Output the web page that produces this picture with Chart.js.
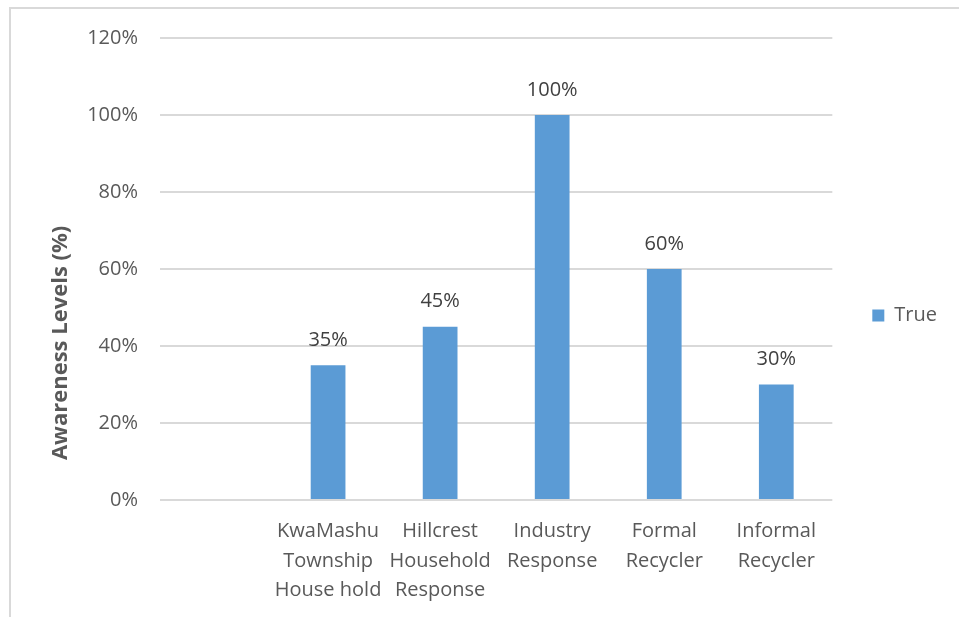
<!DOCTYPE html>
<html>
<head>
<meta charset="utf-8">
<script src="https://cdn.jsdelivr.net/npm/chart.js@4"></script>
<style>
  body { margin: 0; background: #fff; }
  #wrap { position: relative; width: 959px; height: 617px; }
  #frame { position: absolute; left: 9px; top: 7px; right: 0; bottom: 0; border-left: 2px solid #d9d9d9; border-top: 2px solid #d9d9d9; pointer-events: none; }
</style>
</head>
<body>
<div id="wrap">
  <canvas id="myChart" width="959" height="617"></canvas>
  <div id="frame"></div>
</div>
<script>
// categories (first slot is empty in the original)
var categories = [
    '',
    ['KwaMashu', 'Township', 'House hold'],
    ['Hillcrest', 'Household', 'Response'],
    ['Industry', 'Response'],
    ['Formal', 'Recycler'],
    ['Informal', 'Recycler']
];
var trueValues = [null, 35, 45, 100, 60, 30];
var yTicks = [0, 20, 40, 60, 80, 100, 120];

var fontName = "'Open Sans', sans-serif";

// value labels above bars
var barLabels = {
    id: 'barLabels',
    afterDatasetsDraw: function (chart) {
        var ctx = chart.ctx;
        ctx.save();
        ctx.font = '20px ' + fontName;
        ctx.fillStyle = '#404040';
        ctx.textAlign = 'center';
        ctx.textBaseline = 'middle';
        chart.getDatasetMeta(0).data.forEach(function (bar, i) {
            var v = trueValues[i];
            if (v == null) return;
            ctx.fillText(v + '%', bar.x, bar.y - 25);
        });
        ctx.restore();
    }
};

// y axis title, sits lower than the plot middle in the original
var yTitle = {
    id: 'yTitle',
    afterDraw: function (chart) {
        var ctx = chart.ctx;
        var area = chart.chartArea;
        ctx.save();
        ctx.translate(61, area.top + (area.bottom - area.top) * 0.66);
        ctx.rotate(-Math.PI / 2);
        ctx.font = 'bold 22px ' + fontName;
        ctx.fillStyle = '#595959';
        ctx.textAlign = 'center';
        ctx.textBaseline = 'middle';
        ctx.fillText('Awareness Levels (%)', 0, 0);
        ctx.restore();
    }
};

// push the legend right and up a bit, like the original
var legendShift = {
    id: 'legendShift',
    afterLayout: function (chart) {
        chart.legend.left += 30;
        chart.legend.right += 30;
        chart.legend.top -= 12;
        chart.legend.bottom -= 12;
    }
};

var ctx = document.getElementById('myChart').getContext('2d');

var chart = new Chart(ctx, {
    type: 'bar',
    data: {
        labels: categories,
        datasets: [{
            label: 'True',
            backgroundColor: '#5b9bd5',
            data: trueValues,
            categoryPercentage: 1,
            barPercentage: 0.31
        }]
    },
    options: {
        responsive: false,
        animation: false,
        layout: { padding: { left: 10, top: 38, right: 42, bottom: 0 } },
        plugins: {
            legend: {
                position: 'right',
                labels: {
                    boxWidth: 12,
                    boxHeight: 12,
                    color: '#595959',
                    font: { family: fontName, size: 20 }
                }
            },
            tooltip: { enabled: false }
        },
        scales: {
            x: {
                grid: { display: false },
                border: { display: false },
                ticks: {
                    color: '#595959',
                    padding: 9,
                    maxRotation: 0,
                    autoSkip: false,
                    font: { family: fontName, size: 20, lineHeight: 1.47 }
                },
                afterFit: function (scale) { scale.height = 117; }
            },
            y: {
                min: 0,
                max: 120,
                afterBuildTicks: function (scale) {
                    scale.ticks = yTicks.map(function (v) { return { value: v }; });
                },
                grid: { color: '#d9d9d9', lineWidth: 2, drawTicks: false },
                border: { display: false },
                ticks: {
                    color: '#595959',
                    padding: 22,
                    font: { family: fontName, size: 20 },
                    callback: function (v) { return v + '%'; }
                },
                afterFit: function (scale) { scale.width = 150; }
            }
        }
    },
    plugins: [barLabels, yTitle, legendShift]
});
</script>
</body>
</html>
